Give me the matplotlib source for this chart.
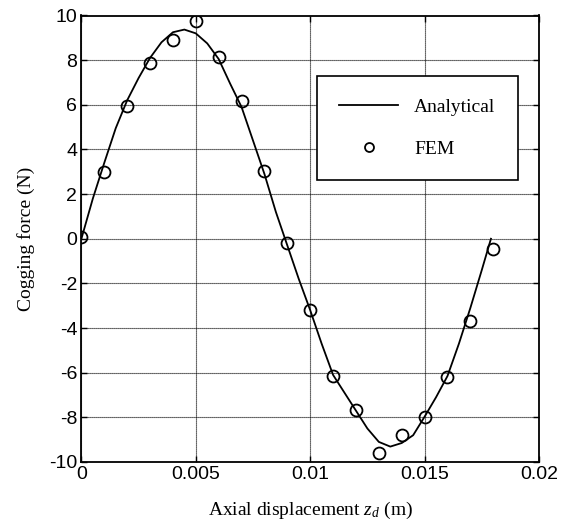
import matplotlib
matplotlib.use("Agg")
import matplotlib.pyplot as plt

# Analytical curve
x_ana = [0.0, 0.0005, 0.0010, 0.0015, 0.0020, 0.0025, 0.0030, 0.0035, 0.0040, 0.0045,
         0.0050, 0.0055, 0.0060, 0.0065, 0.0070, 0.0075, 0.0080, 0.0085, 0.0090, 0.0095,
         0.0100, 0.0105, 0.0110, 0.0115, 0.0120, 0.0125, 0.0130, 0.0135, 0.0140, 0.0145,
         0.0150, 0.0155, 0.0160, 0.0165, 0.0170, 0.0175, 0.0179]
y_ana = [0.0, 1.8, 3.4, 4.95, 6.2, 7.2, 8.1, 8.8, 9.25, 9.37,
         9.2, 8.75, 8.05, 6.95, 5.9, 4.4, 2.9, 1.2, -0.3, -1.8,
         -3.2, -4.7, -6.1, -6.9, -7.7, -8.5, -9.1, -9.31, -9.15, -8.8,
         -7.97, -7.1, -6.15, -4.7, -3.1, -1.4, 0.0]

# FEM points
x_fem = [0.000, 0.001, 0.002, 0.003, 0.004, 0.005, 0.006, 0.007, 0.008, 0.009,
         0.010, 0.011, 0.012, 0.013, 0.014, 0.015, 0.016, 0.017, 0.018]
y_fem = [0.1, 3.0, 5.95, 7.85, 8.9, 9.75, 8.15, 6.15, 3.05, -0.2,
         -3.2, -6.15, -7.65, -9.6, -8.8, -8.0, -6.2, -3.7, -0.45]

x_ticks = [0, 0.005, 0.01, 0.015, 0.02]
x_ticklabels = ["0", "0.005", "0.01", "0.015", "0.02"]
y_ticks = [-10, -8, -6, -4, -2, 0, 2, 4, 6, 8, 10]
y_ticklabels = ["-10", "-8", "-6", "-4", "-2", "0", "2", "4", "6", "8", "10"]

plt.rcParams['mathtext.fontset'] = 'custom'
plt.rcParams['mathtext.it'] = 'Liberation Serif:italic'
plt.rcParams['mathtext.rm'] = 'Liberation Serif'
plt.rcParams['axes.unicode_minus'] = False

fig = plt.figure(figsize=(5.65, 5.22), dpi=100)
ax = fig.add_axes([81.4/565, 1-462/522, (539-81.4)/565, (462-15.5)/522])

ax.plot(x_ana, y_ana, color='black', lw=1.3, label='Analytical')
ax.plot(x_fem, y_fem, linestyle='none', marker='o', markersize=8.6,
        markerfacecolor='none', markeredgecolor='black', markeredgewidth=1.3, label='FEM')

ax.set_xlim(0, 0.02)
ax.set_ylim(-10, 10)
ax.set_xticks(x_ticks)
ax.set_xticklabels(x_ticklabels)
ax.set_yticks(y_ticks)
ax.set_yticklabels(y_ticklabels)
ax.grid(True, color='black', linestyle=(0, (1, 0.8)), linewidth=0.8)
ax.tick_params(direction='in', top=True, right=True, length=4, width=1,
               labelsize=14, pad=3)
for lab in ax.get_xticklabels() + ax.get_yticklabels():
    lab.set_fontfamily('Liberation Sans')
for s in ax.spines.values():
    s.set_linewidth(1.3)

ax.set_xlabel('Axial displacement $z_d$ (m)', fontfamily='Liberation Serif', fontsize=14, labelpad=12)
ax.set_ylabel('Cogging force (N)', fontfamily='Liberation Serif', fontsize=14, labelpad=10)

leg = ax.legend(loc='upper left', bbox_to_anchor=((317-81.4)/457.6, 1-(76-15.5)/446.5),
                frameon=True, fancybox=False, edgecolor='black', framealpha=1,
                prop={'family': 'Liberation Serif', 'size': 14}, handlelength=3.0,
                markerscale=0.75, borderpad=1.15, labelspacing=1.25, handletextpad=0.85,
                borderaxespad=0)
leg.get_frame().set_linewidth(1.2)

fig.savefig('out.png', dpi=100)
